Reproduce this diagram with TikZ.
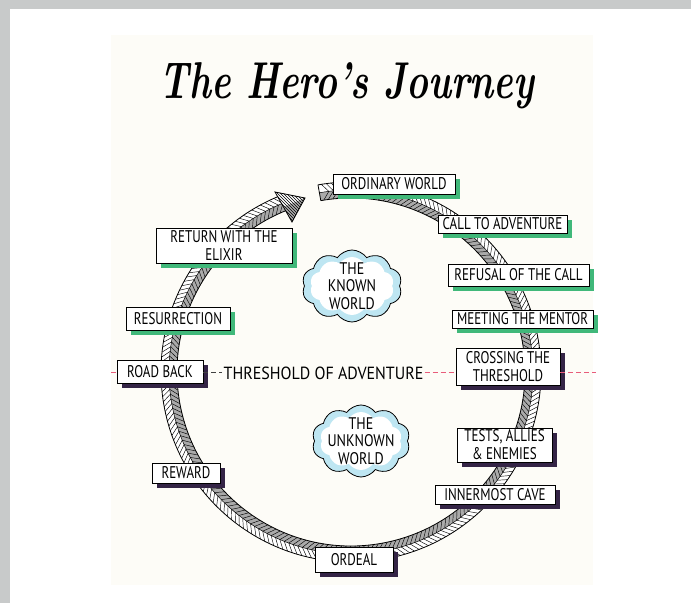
\documentclass[tikz,border=0pt]{standalone}
\usepackage{fontspec}
\usetikzlibrary{shapes.symbols,shadows,patterns,calc}
\newfontfamily\hand{PT Sans}
\definecolor{gborder}{RGB}{200,202,202}
\definecolor{paper}{RGB}{253,252,247}
\definecolor{gshadow}{RGB}{64,184,122}
\definecolor{pshadow}{RGB}{52,36,70}
\definecolor{pinkdash}{RGB}{232,92,122}
\definecolor{ringgray}{RGB}{170,170,170}
\definecolor{cloudblue}{RGB}{190,230,242}
\newcommand\hw[1]{\scalebox{1}[1.3]{\renewcommand\arraystretch{0}\begin{tabular}{@{}c@{}}#1\end{tabular}}}
\newcommand\cw[1]{\scalebox{1}[1.2]{\renewcommand\arraystretch{0}\begin{tabular}{@{}c@{}}#1\end{tabular}}}
\begin{document}
\begin{tikzpicture}[x=1pt,y=1pt,
  box/.style={draw=black,line width=0.9pt,fill=white,inner sep=0pt,font=\hand\fontsize{13pt}{15.6pt}\selectfont},
  gbox/.style={box,drop shadow={shadow xshift=5pt,shadow yshift=-5pt,opacity=1,fill=gshadow}},
  pbox/.style={box,drop shadow={shadow xshift=5pt,shadow yshift=-5pt,opacity=1,fill=pshadow}},
  cloudout/.style={cloud,cloud puffs=10,cloud puff arc=110,draw=black,line width=0.8pt,fill=cloudblue,inner sep=0pt},
  cloudin/.style={cloud,cloud puffs=10,cloud puff arc=110,fill=white,inner sep=0pt},
  cloudtxt/.style={font=\hand\fontsize{14pt}{16.8pt}\selectfont,inner sep=0pt},
  pinkdashed/.style={pinkdash,line width=1pt,dash pattern=on 5pt off 3pt},
  darkdashed/.style={black!75,line width=1pt,dash pattern=on 5pt off 3pt},
  ringline/.style={line width=0.8pt,black}
]
\useasboundingbox (0,0) rectangle (691,603);
% background
\fill[gborder] (0,0) rectangle (691,603);
\fill[white] (10,0) rectangle (691,594);
\fill[paper] (111,18) rectangle (593,568);

% title
\node[font=\fontsize{37pt}{44pt}\selectfont\bfseries\itshape,anchor=base,inner sep=0pt] (title) at (347,504) {\scalebox{1}[1.4]{The Hero’s Journey}};

% ring
\begin{scope}[shift={(351,231)}]
  \fill[white] (100:190) arc[start angle=100,end angle=-248,radius=190] -- (-248:174) arc[start angle=-248,end angle=100,radius=174] -- cycle;
  \fill[ringgray] (100:182) arc[start angle=100,end angle=-248,radius=182] -- (-248:174) arc[start angle=-248,end angle=100,radius=174] -- cycle;
  \foreach \a in {99,97.5,...,-246} {
    \draw[line width=0.45pt] (\a:190) -- (\a-2:182) -- (\a:174);
  }
  \draw[ringline] (100:190) arc[start angle=100,end angle=-248,radius=190];
  \draw[ringline] (100:174) arc[start angle=100,end angle=-248,radius=174];
  \draw[line width=0.5pt] (100:182) arc[start angle=100,end angle=-248,radius=182];
  \draw[ringline] (100:174) -- (100:190);
  % arrow head
  \fill[white] (-76,180) -- (-46,174) -- (-59,150) -- cycle;
  \fill[ringgray] (-46,174) -- (-67.5,165) -- (-59,150) -- cycle;
  \fill[pattern=north west lines] (-76,180) -- (-46,174) -- (-59,150) -- cycle;
  \draw[ringline,line join=miter] (-76,180) -- (-46,174) -- (-59,150) -- cycle;
\end{scope}

% clouds
\node[cloudout,minimum width=100pt,minimum height=72pt] (kw) at (352,317) {};
\node[cloudin,minimum width=84pt,minimum height=58pt] (kwin) at (kw) {};
\node[cloudtxt] (kwt) at (kw) {\cw{THE\\[4.4pt]KNOWN\\[4.4pt]WORLD}};
\node[cloudout,minimum width=98pt,minimum height=72pt] (uw) at (361,162) {};
\node[cloudin,minimum width=82pt,minimum height=58pt] (uwin) at (uw) {};
\node[cloudtxt] (uwt) at (uw) {\cw{THE\\[4.4pt]UNKNOWN\\[4.4pt]WORLD}};

% boxes
\node[gbox,minimum width=122pt,minimum height=20pt] (ow) at (394,419) {\hw{ORDINARY WORLD}};
\node[gbox,minimum width=129pt,minimum height=18pt] (cta) at (502.5,379) {\hw{CALL TO ADVENTURE}};
\node[gbox,minimum width=141pt,minimum height=22pt] (rc) at (518.5,328) {\hw{REFUSAL OF THE CALL}};
\node[gbox,minimum width=141pt,minimum height=18pt] (mm) at (522.5,284) {\hw{MEETING THE MENTOR}};
\node[pbox,minimum width=104pt,minimum height=37pt] (ct) at (508,236.5) {\hw{CROSSING THE\\[4.5pt]THRESHOLD}};
\node[pbox,minimum width=95pt,minimum height=34pt] (tae) at (504.5,158) {\hw{TESTS, ALLIES\\[4.5pt]\& ENEMIES}};
\node[pbox,minimum width=120pt,minimum height=19pt] (ic) at (495,108.5) {\hw{INNERMOST CAVE}};
\node[pbox,minimum width=78pt,minimum height=25pt] (ord) at (354,43.5) {\hw{ORDEAL}};
\node[pbox,minimum width=68pt,minimum height=20pt] (rew) at (186,130) {\hw{REWARD}};
\node[pbox,minimum width=86pt,minimum height=23pt] (rb) at (160,231.5) {\hw{ROAD BACK}};
\node[gbox,minimum width=104pt,minimum height=23pt] (res) at (178,284.5) {\hw{RESURRECTION}};
\node[gbox,minimum width=136pt,minimum height=35pt] (rwe) at (224,357.5) {\hw{RETURN WITH THE\\[4.5pt]ELIXIR}};

% threshold
\node[font=\hand\fontsize{16pt}{18pt}\selectfont,inner sep=1pt] (thr) at (323.5,230) {\scalebox{1}[1.1]{THRESHOLD OF ADVENTURE}};
\coordinate (tl) at (111,230);
\coordinate (tr) at (596,230);
\draw[pinkdashed] (tl) -- (rb.west |- thr.west);
\draw[darkdashed] (rb.east |- thr.west) -- (thr.west);
\draw[pinkdashed] (thr.east) -- (ct.west |- thr.east);
\draw[pinkdashed] (ct.east |- thr.east) -- (tr);
\end{tikzpicture}
\end{document}
